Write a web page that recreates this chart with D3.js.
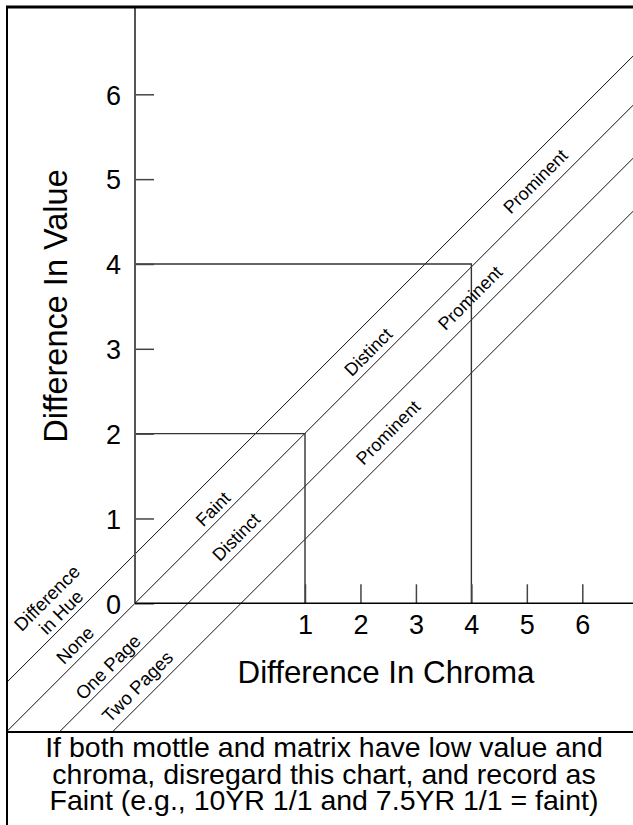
<!DOCTYPE html>
<html><head><meta charset="utf-8">
<script src="https://cdn.jsdelivr.net/npm/d3@7"></script>
<style>
body{margin:0;background:#fff}
svg{display:block}
text{font-family:"Liberation Sans",Arial,Helvetica,sans-serif;fill:#000}
</style>
</head><body>
<svg id="chart" width="633" height="825"></svg>
<script>
// ---- data ----
const valueTicks = [0, 1, 2, 3, 4, 5, 6];
const chromaTicks = [1, 2, 3, 4, 5, 6];
const boxCorners = [{chroma: 1, value: 2}, {chroma: 4, value: 4}];
// diagonal boundaries: value offset relative to the line through the origin
const hueLines = [0.58, 0, -0.625, -1.25];
// labels placed in (diagonal-chroma units, value) coordinates
const hueLabels = [
  {text: ["Difference", "in Hue"], u: -0.955, v: -0.02},
  {text: ["None"], u: -0.708, v: -0.492},
  {text: ["One Page"], u: -0.318, v: -0.751},
  {text: ["Two Pages"], u: 0.029, v: -0.981}
];
const contrastLabels = [
  {text: "Faint", u: 0.919, v: 1.112},
  {text: "Distinct", u: 1.191, v: 0.782},
  {text: "Distinct", u: 2.748, v: 2.963},
  {text: "Prominent", u: 3.950, v: 3.600},
  {text: "Prominent", u: 2.983, v: 2.014},
  {text: "Prominent", u: 4.72, v: 4.974}
];
const xTitle = "Difference In Chroma";
const yTitle = "Difference In Value";
const noteLines = [
  "If both mottle and matrix have low value and",
  "chroma, disregard this chart, and record as",
  "Faint (e.g., 10YR 1/1 and 7.5YR 1/1 = faint)"
];

// ---- layout ----
const W = 633, H = 825;
const frame = {left: 7, top: 7, right: 633, sep: 732};
const FONT = '"Liberation Sans",Arial,Helvetica,sans-serif';
const svg = d3.select("#chart");

const y = d3.scaleLinear().domain([0, 6]).range([603.3, 94.3]);
const x = d3.scaleLinear().domain([0, 1, 6]).range([135, 305, 582.3]);
const xd = d3.scaleLinear().domain([0, 6]).range([135, 135 + (y(0) - y(6))]);

// clip for diagonals
svg.append("defs").append("clipPath").attr("id", "clip")
  .append("rect").attr("x", frame.left).attr("y", frame.top)
  .attr("width", frame.right - frame.left).attr("height", frame.sep - frame.top);

// diagonals
const diag = svg.append("g").attr("clip-path", "url(#clip)");
diag.selectAll("line").data(hueLines).join("line")
  .attr("x1", xd(-3)).attr("y1", k => y(-3 + k))
  .attr("x2", xd(9)).attr("y2", k => y(9 + k))
  .attr("stroke", "#111").attr("stroke-width", 1);

// boxes
svg.append("g").selectAll("path").data(boxCorners).join("path")
  .attr("d", d => `M${x(0)},${y(d.value)}H${x(d.chroma)}V${y(0)}`)
  .attr("fill", "none").attr("stroke", "#333").attr("stroke-width", 1.4);

// y axis
const yAxis = d3.axisLeft(y).tickValues(valueTicks).tickFormat(d3.format("d"))
  .tickSizeInner(-19).tickSizeOuter(0).tickPadding(14);
const gy = svg.append("g").attr("transform", `translate(${x(0)},0)`).call(yAxis);
gy.select(".domain").remove();
gy.selectAll(".tick line").attr("stroke", "#444").attr("stroke-width", 1.5);
gy.selectAll(".tick text").attr("font-size", 27).attr("font-family", FONT).attr("dy", "0.36em").attr("fill", "#000");
svg.append("line").attr("x1", x(0)).attr("x2", x(0)).attr("y1", y(0)).attr("y2", frame.top)
  .attr("stroke", "#555").attr("stroke-width", 2);

// x axis
const xAxis = d3.axisBottom(x).tickValues(chromaTicks).tickFormat(d3.format("d"))
  .tickSizeInner(-19).tickSizeOuter(0).tickPadding(11.5);
const gx = svg.append("g").attr("transform", `translate(0,${y(0)})`).call(xAxis);
gx.select(".domain").remove();
gx.selectAll(".tick line").attr("stroke", "#444").attr("stroke-width", 1.5);
gx.selectAll(".tick text").attr("font-size", 27).attr("font-family", FONT).attr("fill", "#000");
svg.append("line").attr("x1", x(0)).attr("x2", frame.right).attr("y1", y(0)).attr("y2", y(0))
  .attr("stroke", "#000").attr("stroke-width", 1.6);

// titles
svg.append("text").attr("x", 386).attr("y", 683).attr("text-anchor", "middle")
  .attr("font-size", 31.3).text(xTitle);
svg.append("text").attr("transform", "translate(67,306) rotate(-90)").attr("text-anchor", "middle")
  .attr("font-size", 32.5).text(yTitle);

// hue labels
hueLabels.forEach(d => {
  const t = svg.append("text").attr("transform", `translate(${xd(d.u)},${y(d.v)}) rotate(-45)`)
    .attr("text-anchor", "middle").attr("font-size", 18.5);
  const n = d.text.length;
  d.text.forEach((s, i) => {
    t.append("tspan").attr("x", 0).attr("y", (i - (n - 1) / 2) * 20).attr("dy", "0.35em").text(s);
  });
});

// contrast labels
svg.selectAll(".clab").data(contrastLabels).join("text").attr("class", "clab")
  .attr("transform", d => `translate(${xd(d.u)},${y(d.v)}) rotate(-45)`)
  .attr("text-anchor", "middle").attr("dy", "0.35em").attr("font-size", 18)
  .text(d => d.text);

// frame
svg.append("line").attr("x1", frame.left - 1).attr("x2", frame.right).attr("y1", frame.top).attr("y2", frame.top)
  .attr("stroke", "#000").attr("stroke-width", 3);
svg.append("line").attr("x1", frame.left).attr("x2", frame.left).attr("y1", frame.top).attr("y2", H)
  .attr("stroke", "#000").attr("stroke-width", 2);
svg.append("line").attr("x1", frame.left).attr("x2", frame.right).attr("y1", frame.sep).attr("y2", frame.sep)
  .attr("stroke", "#000").attr("stroke-width", 2.2);

// note
svg.selectAll(".note").data(noteLines).join("text").attr("class", "note")
  .attr("x", 324).attr("y", (d, i) => 757 + i * 26.7).attr("text-anchor", "middle")
  .attr("font-size", 28.5).text(d => d);
</script>
</body></html>
